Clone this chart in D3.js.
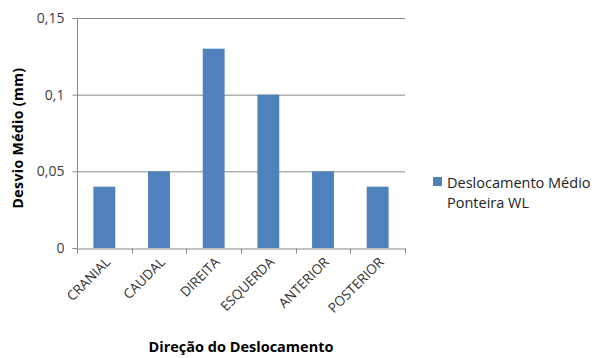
<!DOCTYPE html>
<html><head><meta charset="utf-8">
<script src="https://cdn.jsdelivr.net/npm/d3@7"></script>
<style>body{margin:0;background:#fff}svg{display:block}</style>
</head><body>
<svg id="c" width="600" height="358"></svg>
<script>
const categories = ["CRANIAL","CAUDAL","DIREITA","ESQUERDA","ANTERIOR","POSTERIOR"];
const values = [0.04,0.05,0.13,0.10,0.05,0.04];
const yTicks = [0,0.05,0.1,0.15];
const yTickLabels = ["0","0,05","0,1","0,15"];
const seriesName = ["Deslocamento Médio","Ponteira WL"];
const yTitle = "Desvio Médio (mm)";
const xTitle = "Direção do Deslocamento";

const svg = d3.select("#c");
const L=77,R=405,T=18,B=248;
const font = "'Open Sans', 'Noto Sans', sans-serif";
const xb = d3.scaleBand().domain(categories).range([L,R]);
const y = d3.scaleLinear().domain([0,0.15]).range([B,T]);

// gridlines
svg.append("g").selectAll("line").data(yTicks.filter(d=>d>0)).join("line")
  .attr("x1",L).attr("x2",R).attr("y1",d=>y(d)+0.5).attr("y2",d=>y(d)+0.5)
  .attr("stroke","#888").attr("stroke-width",1);

// bars
svg.append("g").selectAll("rect").data(values).join("rect")
  .attr("x",(d,i)=>xb(categories[i])+xb.bandwidth()*0.3)
  .attr("width",xb.bandwidth()*0.4)
  .attr("y",d=>y(d)).attr("height",d=>B-y(d))
  .attr("fill","#4F81BD");

// y axis
const ya = svg.append("g").attr("transform",`translate(${L+0.5},0)`)
  .call(d3.axisLeft(y).tickValues(yTicks).tickFormat((d,i)=>yTickLabels[i]).tickSize(5).tickPadding(8));
ya.select(".domain").attr("stroke","#888").attr("d",`M-5,${y(0.15)+0.5}H0V${B+0.5}`);
ya.selectAll(".tick line").attr("stroke","#888");
ya.selectAll("text").attr("font-family",font).attr("font-size",14).attr("fill","#404040");

// x axis
const xa = svg.append("g").attr("transform",`translate(0,${B+0.5})`)
  .call(d3.axisBottom(xb).tickValues([]).tickSizeOuter(0));
xa.select(".domain").attr("stroke","#888");
xa.selectAll(".xt").data(d3.range(categories.length+1)).join("line")
  .attr("x1",i=>Math.round(L+i*xb.step())+0.5).attr("x2",i=>Math.round(L+i*xb.step())+0.5)
  .attr("y1",0).attr("y2",5).attr("stroke","#888");
svg.append("g").selectAll("text").data(categories).join("text")
  .attr("transform",d=>`translate(${xb(d)+xb.bandwidth()/2+7},${B+15}) rotate(-45)`)
  .attr("text-anchor","end")
  .attr("font-family",font).attr("font-size",13.5).attr("fill","#333")
  .text(d=>d);

// titles
svg.append("text").attr("transform",`translate(23,${(T+B)/2+5}) rotate(-90)`)
  .attr("text-anchor","middle").attr("font-family",font).attr("font-weight","bold")
  .attr("font-size",14).attr("letter-spacing",0.4).attr("fill","#000").text(yTitle);
svg.append("text").attr("x",(L+R)/2).attr("y",352)
  .attr("text-anchor","middle").attr("font-family",font).attr("font-weight","bold")
  .attr("font-size",14.5).attr("fill","#000").text(xTitle);

// legend
svg.append("rect").attr("x",433).attr("y",177).attr("width",9).attr("height",9).attr("fill","#4F81BD");
svg.append("text").attr("x",447).attr("y",188).attr("font-family",font).attr("font-size",14.5).attr("fill","#222")
  .selectAll("tspan").data(seriesName).join("tspan").attr("x",447).attr("dy",(d,i)=>i?20:0).text(d=>d);
</script>
</body></html>
